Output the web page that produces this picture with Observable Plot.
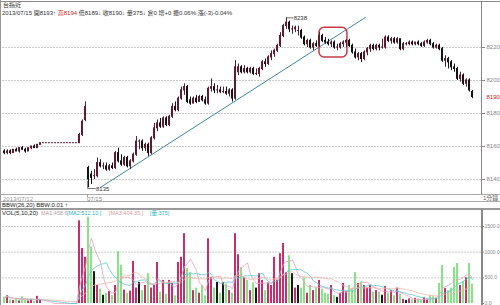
<!DOCTYPE html>
<html><head><meta charset="utf-8">
<script src="https://cdn.jsdelivr.net/npm/d3@7"></script>
<script src="https://cdn.jsdelivr.net/npm/@observablehq/plot@0.6"></script>
<style>
html,body{margin:0;padding:0;background:#fff;}
#root{position:relative;width:500px;height:305px;overflow:hidden;background:#fff;font-family:"Liberation Sans","Noto Sans CJK TC",sans-serif;}
.t{position:absolute;white-space:nowrap;font-size:6px;line-height:7px;color:#333;}
.s{font-size:5.5px;}
.hl{position:absolute;left:0;width:500px;height:0;}
.vl{position:absolute;width:0;}
.svgbox{position:absolute;left:0;}
</style></head><body>
<div id="root">
  <div class="hl" style="top:1px;border-top:1px solid #888"></div>
  <div class="vl" style="left:0;top:0;height:305px;border-left:1px solid #999"></div>
  <div class="t" style="left:3px;top:2px">台指近</div>
  <div class="t" style="left:2px;top:10px">2013/07/15 開8193↑ <span style="color:#d02020">高8194</span> 低8189↓ 收8190↓ 量375↓ 倉0 增+0 振0.06% 漲(-3)-0.04%</div>
  <div id="price" class="svgbox" style="top:0"></div>
  <div class="vl" style="left:481px;top:1px;height:193px;border-left:1px solid #888"></div>
  <div class="hl" style="top:194px;border-top:1px solid #aaa"></div>
  <div class="t" style="left:3px;top:196px;color:#999">2013/07/12</div>
  <div class="vl" style="left:87px;top:194px;height:3px;border-left:1px solid #999"></div>
  <div class="t" style="left:87px;top:196px;color:#888">07/15</div>
  <div class="t" style="left:483px;top:195px;color:#666">1分鐘</div>
  <div class="hl" style="top:201px;border-top:1px solid #aaa"></div>
  <div class="t" style="left:2px;top:202px;color:#222">BBW(26,20) BBW:0.01 ↑</div>
  <div class="hl" style="top:208px;border-top:2px solid #999"></div>
  <div class="t" style="left:2px;top:210px;color:#222">VOL(5,10,20)</div>
  <div class="t s" style="left:41px;top:210px;color:#b89aa4">MA1:458.6</div>
  <div class="t s" style="left:67px;top:210px;color:#30b8c0">[MA2:512.10 ]</div>
  <div class="t s" style="left:109px;top:210px;color:#e09a9a">[MA3:404.35 ]</div>
  <div class="t s" style="left:150px;top:210px;color:#30b8c0">[量:375]</div>
  <div id="vol" class="svgbox" style="top:209px"></div>
  <div class="vl" style="left:481px;top:209px;height:96px;border-left:2px solid #888"></div>
</div>
<script>
// ---- data (1-minute bars, index 0..156) ----
const O = [8157,8156,8157,8156,8158,8157,8159,8158,8157,8159,8160,8159,8161,
  8162,8162,8162,8162,8162,8162,8162,8162,8162,8162,8162,8162,
  8162,8167,8176,
  8147,8143,8142,8142,8150,8148,8148,8146,8148,8147,8156,8151,
  8149,8153,8148,8151,8155,8163,8163,8159,8161,8156,
  8165,8171,8174,8172,8177,8173,8178,8184,8182,8189,
  8194,8196,8188,8186,8189,8187,8190,8188,8186,8195,
  8196,8194,8194,8193,8193,8192,8194,8189,8205,8208,
  8205,8207,8205,8207,8204,8204,8207,8211,8210,8214,
  8216,8218,8221,8227,8233,8235,8231,8231,8230,8230,
  8226,8222,8224,8220,8222,8221,8227,8224,8223,8222,
  8223,8220,8220,8222,8223,8224,8221,8217,8214,8216,
  8213,8217,8219,8221,8219,8221,8220,8220,8226,8224,
  8225,8223,8225,8219,8222,8222,8223,8222,8223,8222,
  8221,8223,8224,8222,8220,8221,8219,8212,8213,8211,
  8208,8207,8201,8203,8198,8200,8193];
const H = [8158,8158,8158,8158,8159,8159,8160,8159,8159,8160,8161,8161,8162,
  8162,8162,8162,8162,8162,8162,8162,8162,8162,8162,8162,8162,
  8168,8176,8187,
  8148,8145,8146,8153,8152,8150,8150,8149,8150,8157,8159,8155,
  8154,8154,8152,8156,8166,8164,8164,8162,8162,8166,
  8174,8176,8177,8178,8178,8179,8186,8187,8190,8196,
  8198,8197,8190,8190,8191,8191,8191,8190,8196,8201,
  8198,8197,8196,8196,8196,8195,8195,8212,8210,8209,
  8209,8208,8208,8208,8207,8208,8212,8213,8215,8218,
  8219,8222,8229,8234,8238,8236,8233,8233,8233,8231,
  8227,8225,8225,8223,8224,8229,8228,8226,8225,8224,
  8224,8222,8223,8224,8225,8225,8222,8219,8217,8217,
  8218,8220,8222,8222,8222,8222,8225,8227,8227,8226,
  8226,8226,8225,8223,8223,8224,8224,8223,8224,8223,
  8224,8225,8225,8223,8222,8222,8220,8215,8214,8212,
  8210,8208,8205,8204,8201,8201,8194];
const L = [8155,8155,8155,8156,8157,8156,8158,8156,8157,8158,8159,8159,8161,
  8162,8162,8162,8162,8162,8162,8162,8162,8162,8162,8162,8162,
  8162,8166,8175,
  8135,8137,8140,8141,8147,8146,8145,8145,8146,8146,8150,8148,
  8148,8147,8146,8150,8154,8158,8157,8157,8154,8155,
  8164,8169,8171,8171,8172,8172,8177,8181,8181,8188,
  8191,8186,8185,8186,8186,8187,8187,8185,8185,8193,
  8192,8192,8192,8192,8191,8190,8187,8188,8203,8204,
  8204,8204,8204,8203,8203,8202,8206,8208,8209,8212,
  8214,8217,8220,8226,8231,8229,8228,8229,8227,8225,
  8221,8220,8219,8218,8220,8220,8223,8222,8221,8220,
  8219,8218,8219,8220,8220,8220,8216,8213,8212,8211,
  8212,8215,8217,8218,8218,8218,8219,8219,8223,8222,
  8222,8222,8218,8218,8221,8221,8221,8221,8221,8220,
  8220,8222,8221,8219,8219,8218,8211,8208,8207,8206,
  8205,8200,8199,8197,8196,8193,8189];
const C = [8156,8157,8156,8158,8157,8159,8158,8157,8159,8160,8159,8161,8162,
  8162,8162,8162,8162,8162,8162,8162,8162,8162,8162,8162,8162,
  8167,8175,8184,
  8140,8141,8142,8150,8148,8148,8146,8148,8147,8156,8151,8149,
  8153,8148,8151,8155,8163,8163,8159,8161,8156,8165,
  8171,8174,8172,8177,8173,8178,8184,8182,8189,8194,
  8196,8187,8186,8189,8187,8190,8188,8186,8195,8196,
  8194,8194,8193,8193,8192,8194,8189,8208,8208,8205,
  8207,8205,8207,8204,8204,8207,8211,8210,8214,8216,
  8218,8221,8227,8233,8235,8231,8231,8232,8230,8226,
  8222,8224,8220,8222,8221,8227,8224,8223,8222,8223,
  8220,8220,8222,8223,8224,8221,8217,8214,8216,8213,
  8217,8219,8221,8219,8221,8220,8220,8226,8224,8225,
  8223,8225,8219,8222,8222,8223,8222,8223,8222,8221,
  8223,8224,8222,8220,8221,8219,8212,8213,8211,8208,
  8207,8201,8203,8198,8200,8194,8190];
const V = [120,150,70,60,90,50,130,60,50,80,40,140,70,
  0,0,0,0,0,0,0,0,0,0,0,0,
  1610,1070,900,
  1680,1100,620,350,280,160,200,230,150,350,1010,740,
  260,200,240,820,300,410,250,350,580,300,
  350,800,220,450,180,450,390,150,800,900,
  1360,680,600,250,300,200,350,150,1260,500,
  300,410,200,410,380,250,200,1360,950,700,
  500,450,250,400,300,580,450,250,400,350,
  900,450,970,1170,600,930,580,300,350,300,
  500,200,350,250,300,450,280,200,180,350,
  150,120,200,390,230,350,280,600,390,420,
  350,300,350,220,250,220,160,330,200,250,
  150,300,180,80,60,90,70,100,80,60,
  110,70,150,130,100,390,740,290,250,300,
  700,780,350,430,500,780,375];

const priceTicks = [8140, 8160, 8180, 8200, 8220];
const volTicks = [0, 500, 1000, 1500];
const maPeriods = [5, 10, 20];
const maColors = ["#e6a0bc", "#5cc8d0", "#f2b4a8"];
const trendIdx = [32, 120.3], trendPrice = [8135.2, 8238.2];
const boxIdx = [105, 114.3], boxPrice = [8214, 8232];
const peakIdx = 94, peakPrice = 8238;
const lowIdx = 28, lowPrice = 8135;

// ---- build ----
const bars = C.map((c, i) => ({i, o: O[i], h: H[i], l: L[i], c, v: V[i], dir: Math.sign(c - O[i])}));
const lastClose = C[C.length - 1];
const candleCol = d => d.dir < 0 ? "#141414" : "#5e1c30";
const volCol = d => d.dir > 0 ? "#c4306c" : d.dir < 0 ? "#88e488" : "#1a1a1a";
const HALF = 0.34;
const xDom = [-0.5, 159];
const FONT = "Liberation Sans, Noto Sans CJK TC, sans-serif";

const price = Plot.plot({
  width: 500, height: 194,
  marginLeft: 2.5, marginRight: 19, marginTop: 47, marginBottom: 15,
  x: {domain: xDom, axis: null},
  y: {domain: [8140, 8220], axis: null},
  color: {type: "identity"},
  style: {background: "transparent", overflow: "visible", fontFamily: FONT, color: "#888"},
  marks: [
    Plot.gridY(priceTicks, {stroke: "#999", strokeOpacity: 1, strokeDasharray: "1,2"}),
    Plot.axisY(priceTicks, {anchor: "right", tickSize: 3, tickPadding: 2, fontSize: 6, stroke: "#888", fill: "#888", tickFormat: d => String(d), label: null}),
    Plot.text([lastClose], {y: d => d, text: d => String(d), frameAnchor: "right", textAnchor: "start", dx: 5, fill: "#d02020", fontSize: 6}),
    Plot.line(trendIdx.map((x, k) => ({x, y: trendPrice[k]})), {x: "x", y: "y", stroke: "#3f86a8", strokeWidth: 1}),
    Plot.rect([{x1: boxIdx[0], x2: boxIdx[1], y1: boxPrice[0], y2: boxPrice[1]}], {x1: "x1", x2: "x2", y1: "y1", y2: "y2", fill: "none", stroke: "#c8384a", strokeWidth: 1.5, rx: 5}),
    Plot.ruleX(bars, {x: "i", y1: "l", y2: "h", stroke: candleCol, strokeWidth: 1}),
    Plot.rect(bars, {x1: d => d.i - HALF, x2: d => d.i + HALF, y1: "o", y2: "c", fill: candleCol, insetTop: -0.5, insetBottom: -0.5}),
    Plot.line([{x: peakIdx, y: peakPrice}, {x: peakIdx + 2.2, y: peakPrice}], {x: "x", y: "y", stroke: "#555", strokeWidth: 0.8}),
    Plot.text([{x: peakIdx + 2.4, y: peakPrice}], {x: "x", y: "y", text: () => String(peakPrice), textAnchor: "start", fill: "#333", fontSize: 6}),
    Plot.line([{x: lowIdx - 0.3, y: lowPrice + 4}, {x: lowIdx - 0.3, y: lowPrice - 0.5}, {x: lowIdx + 2.3, y: lowPrice - 0.5}], {x: "x", y: "y", stroke: "#555", strokeWidth: 0.8}),
    Plot.text([{x: lowIdx + 2.5, y: lowPrice - 1}], {x: "x", y: "y", text: () => String(lowPrice), textAnchor: "start", fill: "#333", fontSize: 6})
  ]
});
document.getElementById("price").appendChild(price);

const vol = Plot.plot({
  width: 500, height: 96,
  marginLeft: 2.5, marginRight: 19, marginTop: 17, marginBottom: 2,
  x: {domain: xDom, axis: null},
  y: {domain: [0, 1500], axis: null},
  color: {type: "identity"},
  style: {background: "transparent", overflow: "visible", fontFamily: FONT, color: "#888"},
  marks: [
    Plot.gridY(volTicks.slice(1), {stroke: "#999", strokeOpacity: 1, strokeDasharray: "1,2"}),
    Plot.axisY(volTicks, {anchor: "right", tickSize: 2, tickPadding: 1, fontSize: 5, stroke: "#888", fill: "#888", tickFormat: d => d.toFixed(1), label: null}),
    Plot.rectY(bars, {x1: d => d.i - HALF, x2: d => d.i + HALF, y: "v", fill: volCol}),
    ...maPeriods.map((k, j) => Plot.lineY(bars, Plot.windowY({k, anchor: "end"}, {x: "i", y: "v", stroke: maColors[j], strokeWidth: 0.8})))
  ]
});
document.getElementById("vol").appendChild(vol);
</script>
</body></html>
